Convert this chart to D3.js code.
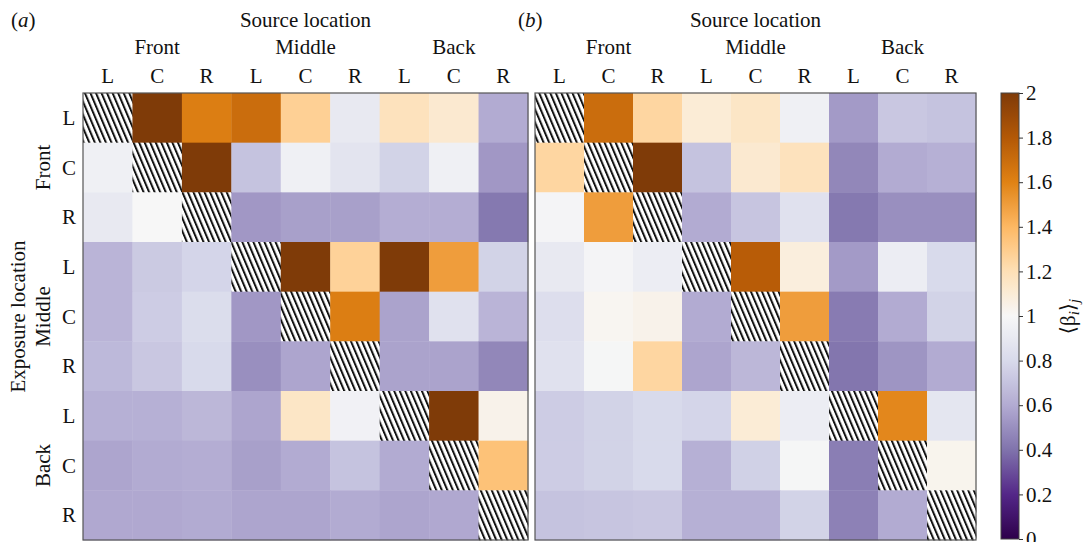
<!DOCTYPE html>
<html><head><meta charset="utf-8">
<script src="https://cdn.jsdelivr.net/npm/d3@7"></script>
<style>body{margin:0;background:#fff}svg{display:block}text{font-family:"Liberation Serif","DejaVu Serif",serif;fill:#111}</style>
</head><body><div id="chart"></div>
<script>
const groups = ["Front","Middle","Back"];
const sides = ["L","C","R"];
const locations = ["FL","FC","FR","ML","MC","MR","BL","BC","BR"];
const colorTicks = [0,0.2,0.4,0.6,0.8,1,1.2,1.4,1.6,1.8,2];
const tickLabels = ["0","0.2","0.4","0.6","0.8","1","1.2","1.4","1.6","1.8","2"];
const puorStops = ["#2d004b","#542788","#8073ac","#b2abd2","#d8daeb","#f7f7f7","#fee0b6","#fdb863","#e08214","#b35806","#7f3b08"];
// rows = exposure location, cols = source location; null = diagonal (hatched)
const valuesA = [
 [null,2.0,1.62,1.7,1.28,0.9,1.18,1.12,0.6],
 [0.95,null,2.0,0.7,0.95,0.87,0.77,0.95,0.53],
 [0.9,1.0,null,0.53,0.56,0.56,0.61,0.61,0.42],
 [0.64,0.73,0.78,null,2.0,1.27,2.0,1.5,0.77],
 [0.64,0.74,0.82,0.53,null,1.62,0.57,0.85,0.64],
 [0.66,0.72,0.8,0.5,0.58,null,0.57,0.57,0.47],
 [0.62,0.62,0.65,0.58,1.15,0.96,null,2.0,1.04],
 [0.58,0.6,0.61,0.56,0.6,0.7,0.6,null,1.35],
 [0.59,0.59,0.6,0.58,0.58,0.6,0.58,0.59,null]
];
const valuesB = [
 [null,1.7,1.25,1.1,1.15,0.95,0.54,0.72,0.7],
 [1.25,null,2.0,0.7,1.12,1.18,0.47,0.6,0.62],
 [0.98,1.5,null,0.6,0.71,0.85,0.42,0.5,0.5],
 [0.9,0.98,0.93,null,1.78,1.08,0.54,0.93,0.8],
 [0.83,1.02,1.04,0.6,null,1.5,0.43,0.6,0.77],
 [0.85,0.99,1.25,0.58,0.65,null,0.41,0.52,0.6],
 [0.74,0.77,0.8,0.78,1.1,0.93,null,1.58,0.88],
 [0.74,0.77,0.8,0.62,0.76,0.99,0.44,null,1.03],
 [0.7,0.71,0.72,0.62,0.62,0.77,0.45,0.6,null]
];

const W = 1089, H = 542, FS = 21;
const svg = d3.select("#chart").append("svg").attr("width",W).attr("height",H);
const color = d3.scaleLinear().domain(colorTicks).range(puorStops).interpolate(d3.interpolateRgb).clamp(true);

const defs = svg.append("defs");
const pp = 5.1;
const pat = defs.append("pattern").attr("id","hatch").attr("patternUnits","userSpaceOnUse")
  .attr("width",pp).attr("height",pp).attr("patternTransform","rotate(-23)");
pat.append("rect").attr("width",pp).attr("height",pp).attr("fill","#fff");
pat.append("rect").attr("x",0).attr("width",2.0).attr("height",pp).attr("fill","#111");

const yTop = 93, yBottom = 540;
const panels = [
  {label:"a", x0:83, x1:528, data:valuesA},
  {label:"b", x0:535, x1:976, data:valuesB}
];
const yScale = d3.scaleBand().domain(locations).range([yTop,yBottom]);

panels.forEach((p,pi)=>{
  const xScale = d3.scaleBand().domain(locations).range([p.x0,p.x1]);
  const g = svg.append("g");
  const cells = [];
  p.data.forEach((row,i)=>row.forEach((v,j)=>cells.push({r:locations[i],c:locations[j],v})));
  g.selectAll("rect.cell").data(cells).join("rect").attr("class","cell")
    .attr("x",d=>xScale(d.c)).attr("y",d=>yScale(d.r))
    .attr("width",xScale.bandwidth()+0.4).attr("height",yScale.bandwidth()+0.4)
    .attr("fill",d=>d.v===null?"url(#hatch)":color(d.v));
  g.append("rect").attr("x",p.x0).attr("y",yTop).attr("width",p.x1-p.x0).attr("height",yBottom-yTop)
    .attr("fill","none").attr("stroke","#555").attr("stroke-width",1.2);
  g.selectAll("text.col").data(locations).join("text").attr("class","col")
    .attr("x",d=>xScale(d)+xScale.bandwidth()/2).attr("y",83)
    .attr("text-anchor","middle").attr("font-size",FS).text(d=>sides[locations.indexOf(d)%3]);
  g.selectAll("text.grp").data(groups).join("text").attr("class","grp")
    .attr("x",(d,i)=>xScale(locations[i*3+1])+xScale.bandwidth()/2).attr("y",54)
    .attr("text-anchor","middle").attr("font-size",FS).text(d=>d);
  g.append("text").attr("x",(p.x0+p.x1)/2).attr("y",27).attr("text-anchor","middle")
    .attr("font-size",FS).text("Source location");
  const lab = g.append("text").attr("x",pi===0?11:518).attr("y",27).attr("font-size",FS);
  lab.append("tspan").text("(");
  lab.append("tspan").attr("font-style","italic").text(p.label);
  lab.append("tspan").text(")");
});

svg.selectAll("text.row").data(locations).join("text").attr("class","row")
  .attr("x",69).attr("y",d=>yScale(d)+yScale.bandwidth()/2+7)
  .attr("text-anchor","middle").attr("font-size",FS).text(d=>sides[locations.indexOf(d)%3]);
svg.selectAll("text.rgrp").data(groups).join("text").attr("class","rgrp")
  .attr("transform",(d,i)=>`translate(50,${yScale(locations[i*3+1])+yScale.bandwidth()/2}) rotate(-90)`)
  .attr("text-anchor","middle").attr("font-size",FS).text(d=>d);
svg.append("text").attr("transform",`translate(25,${(yTop+yBottom)/2}) rotate(-90)`)
  .attr("text-anchor","middle").attr("font-size",FS).text("Exposure location");

// colorbar
const cbX = 1001, cbW = 18;
const cbScale = d3.scaleLinear().domain([0,2]).range([yBottom-1,yTop]);
const grad = defs.append("linearGradient").attr("id","cbgrad").attr("x1",0).attr("x2",0).attr("y1",1).attr("y2",0);
d3.range(0,2.0001,0.05).forEach(v=>grad.append("stop").attr("offset",v/2).attr("stop-color",color(v)));
svg.append("rect").attr("x",cbX).attr("y",yTop).attr("width",cbW).attr("height",yBottom-1-yTop)
  .attr("fill","url(#cbgrad)").attr("stroke","#444").attr("stroke-width",1);
const cbAxis = d3.axisRight(cbScale).tickValues(colorTicks).tickFormat((d,i)=>tickLabels[i]).tickSize(4).tickPadding(3);
const ag = svg.append("g").attr("transform",`translate(${cbX+cbW},0)`).call(cbAxis);
ag.select(".domain").remove();
ag.selectAll("line").attr("stroke","#333");
ag.selectAll("text").attr("font-size",FS).attr("font-family","Liberation Serif, serif").attr("fill","#111");
const cbl = svg.append("text").attr("transform",`translate(1075,${(yTop+yBottom)/2}) rotate(-90)`)
  .attr("text-anchor","middle").attr("font-size",FS);
cbl.append("tspan").text("⟨β");
cbl.append("tspan").attr("font-style","italic").attr("font-size",15).attr("dy",4).text("i");
cbl.append("tspan").attr("dy",-4).text("⟩");
cbl.append("tspan").attr("font-style","italic").attr("font-size",15).attr("dy",4).text("j");
</script></body></html>
